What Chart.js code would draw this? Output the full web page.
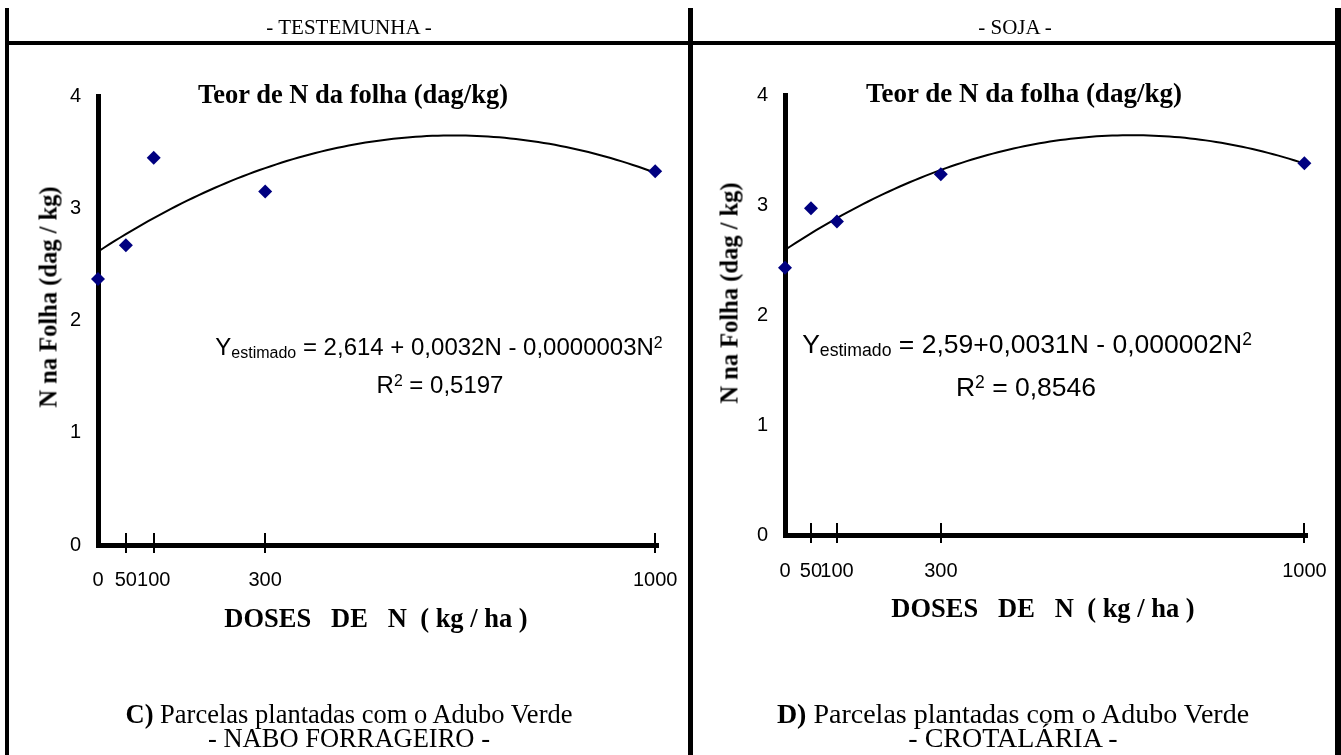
<!DOCTYPE html>
<html>
<head>
<meta charset="utf-8">
<script src="https://cdn.jsdelivr.net/npm/chart.js@4/dist/chart.umd.min.js"></script>
<style>
  html, body { margin:0; padding:0; background:#fff; }
  #page { position:relative; width:1341px; height:755px; overflow:hidden; background:#fff; }
  canvas { position:absolute; top:0; }
  .bar { position:absolute; background:#000; z-index:5; }
  .txt { position:absolute; white-space:pre; line-height:1; transform-origin:0 0; color:#000; z-index:6; }
  .sub { position:relative; font-size:0.667em; top:0.17em; }
  .sup { position:relative; font-size:0.66em; top:-0.45em; }
</style>
</head>
<body>
<div id="page">
  <canvas id="cLeft" width="690" height="755" style="left:0"></canvas>
  <canvas id="cRight" width="648" height="755" style="left:693px"></canvas>
</div>
<script>
// ---- data ----
const doses = [0, 50, 100, 300, 1000];                 // N (kg/ha)
const nTestemunha = [2.37, 2.67, 3.45, 3.15, 3.33];    // panel C (Nabo forrageiro)
const nSoja = [2.43, 2.97, 2.85, 3.28, 3.38];          // panel D (Crotalária)
const xTickValues = [0, 50, 100, 300, 1000];
const xTickLabels = ['0', '50', '100', '300', '1000'];
const yTickValues = [0, 1, 2, 3, 4];

// least-squares quadratic trend line (as in the spreadsheet trendline)
function quadFit(xs, ys) {
  let S = [0,0,0,0,0], T = [0,0,0];
  xs.forEach((x,i) => {
    let p = 1;
    for (let k = 0; k < 5; k++) { S[k] += p; if (k < 3) T[k] += p * ys[i]; p *= x; }
  });
  const A = [[S[0],S[1],S[2],T[0]],[S[1],S[2],S[3],T[1]],[S[2],S[3],S[4],T[2]]];
  for (let c = 0; c < 3; c++) {
    for (let r = c+1; r < 3; r++) {
      const f = A[r][c] / A[c][c];
      for (let k = c; k < 4; k++) A[r][k] -= f * A[c][k];
    }
  }
  const sol = [0,0,0];
  for (let r = 2; r >= 0; r--) {
    let s = A[r][3];
    for (let k = r+1; k < 3; k++) s -= A[r][k] * sol[k];
    sol[r] = s / A[r][r];
  }
  return sol;
}

const tickMarks = {
  id: 'tickMarks',
  beforeDatasetsDraw(chart) {
    const xs = chart.scales.x, ctx = chart.ctx, b = chart.chartArea.bottom;
    ctx.save();
    ctx.strokeStyle = '#000'; ctx.lineWidth = 2;
    xTickValues.forEach(v => {
      if (v === 0) return;
      const px = Math.round(xs.getPixelForValue(v));
      ctx.beginPath(); ctx.moveTo(px, b - 12); ctx.lineTo(px, b + 8); ctx.stroke();
    });
    ctx.restore();
  }
};

function makeChart(id, values, area, W, H, labelGap) {
  const fit = quadFit(doses, values);
  const trend = [];
  for (let n = 0; n <= doses[doses.length-1]; n += 10) trend.push({x:n, y: fit[0] + fit[1]*n + fit[2]*n*n});
  const tickFont = { family: 'Liberation Sans', size: 20 };
  return new Chart(document.getElementById(id), {
    type: 'scatter',
    data: { datasets: [
      { data: doses.map((d,i) => ({x:d, y:values[i]})), pointStyle:'rectRot', pointRadius:7, pointHoverRadius:7,
        backgroundColor:'#000080', borderColor:'#000080', borderWidth:0, showLine:false, clip:false },
      { data: trend, showLine:true, pointRadius:0, pointHoverRadius:0, borderColor:'#000', borderWidth:2,
        backgroundColor:'#000', tension:0, clip:false }
    ]},
    options: {
      responsive:false, animation:false, devicePixelRatio:1,
      events: [],
      layout: { padding: { left:0, top: area.top, right: W - area.right, bottom:0 } },
      plugins: { legend:{display:false}, tooltip:{enabled:false}, title:{display:false} },
      scales: {
        x: { type:'linear', min:0, max:1005,
             afterBuildTicks: s => { s.ticks = xTickValues.map(v => ({value:v})); },
             ticks: { callback: (v, i) => xTickLabels[i], font: tickFont, color:'#000', padding:0, maxRotation:0, autoSkip:false },
             grid: { display:true, drawOnChartArea:false, drawTicks:true, tickLength:labelGap, color:'rgba(0,0,0,0)' },
             border: { display:true, color:'#000', width:5 },
             afterFit: s => { s.height = H - area.bottom; } },
        y: { type:'linear', min:0, max:4,
             afterBuildTicks: s => { s.ticks = yTickValues.map(v => ({value:v})); },
             ticks: { font: tickFont, color:'#000', padding:17 },
             grid: { display:false, drawTicks:false },
             border: { display:true, color:'#000', width:5 },
             afterFit: s => { s.width = area.left; } }
      }
    },
    plugins: [tickMarks]
  });
}

makeChart('cLeft', nTestemunha, {left:98, right:658, top:96, bottom:545}, 690, 755, 23);
makeChart('cRight', nSoja, {left:92, right:614, top:95, bottom:535}, 648, 755, 24);

// ---- frame ----
const page = document.getElementById('page');
function bar(x, y, w, h) {
  const d = document.createElement('div'); d.className = 'bar';
  Object.assign(d.style, {left:x+'px', top:y+'px', width:w+'px', height:h+'px'});
  page.appendChild(d);
}
bar(5, 8, 4, 747);
bar(5, 41, 1336, 4);
bar(688, 8, 5, 747);
bar(1335, 8, 6, 747);

// ---- texts ----
const SERIF = '"Liberation Serif", "Times New Roman", serif';
const SANS = '"Liberation Sans", Arial, sans-serif';
function addText(html, o) {
  const d = document.createElement('div'); d.className = 'txt';
  d.innerHTML = html;
  d.style.fontFamily = o.family; d.style.fontSize = o.size + 'px'; d.style.fontWeight = o.bold ? 'bold' : 'normal';
  d.style.left = o.x + 'px'; d.style.top = o.y + 'px';
  const k = o.family === SERIF ? 83.75 : 84.65;
  let tf = `translate(-50%, -${k}%)`;
  if (o.rotate) tf = 'rotate(-90deg) ' + tf;
  d.style.transform = tf;
  page.appendChild(d);
}
// headers
addText('- TESTEMUNHA -', {x:349, y:35, size:21, family:SERIF});
addText('- SOJA -', {x:1015, y:35, size:21, family:SERIF});
// chart titles
addText('Teor de N da folha (dag/kg)', {x:353, y:103, size:26.5, family:SERIF, bold:true});
addText('Teor de N da folha (dag/kg)', {x:1024, y:103, size:27, family:SERIF, bold:true});
// y titles
addText('N na Folha (dag / kg)', {x:57, y:297, size:24.5, family:SERIF, bold:true, rotate:true});
addText('N na Folha (dag / kg)', {x:738, y:293, size:24.5, family:SERIF, bold:true, rotate:true});
// x titles
addText('DOSES   DE   N  ( kg / ha )', {x:376, y:627, size:26.5, family:SERIF, bold:true});
addText('DOSES   DE   N  ( kg / ha )', {x:1043, y:617, size:26.5, family:SERIF, bold:true});
// equations
addText('Y<span class="sub">estimado</span> = 2,614 + 0,0032N - 0,0000003N<span class="sup">2</span>', {x:439, y:355, size:24, family:SANS});
addText('R<span class="sup">2</span> = 0,5197', {x:440, y:393, size:24, family:SANS});
addText('Y<span class="sub">estimado</span> = 2,59+0,0031N - 0,000002N<span class="sup">2</span>', {x:1027, y:353, size:26.5, family:SANS});
addText('R<span class="sup">2</span> = 0,8546', {x:1026, y:396, size:26.5, family:SANS});
// captions
addText('<b>C)</b> Parcelas plantadas com o Adubo Verde', {x:349, y:723, size:26.5, family:SERIF});
addText('- NABO FORRAGEIRO -', {x:349, y:747, size:26.5, family:SERIF});
addText('<b>D)</b> Parcelas plantadas com o Adubo Verde', {x:1013, y:723, size:28, family:SERIF});
addText('- CROTALÁRIA -', {x:1013, y:747, size:28, family:SERIF});
</script>
</body>
</html>
